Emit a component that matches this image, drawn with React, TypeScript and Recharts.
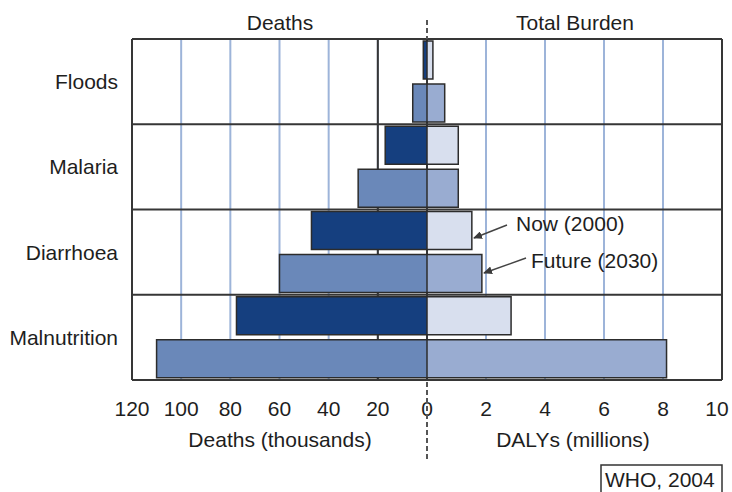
import React from 'react';
import { BarChart, Bar, XAxis, YAxis, CartesianGrid } from 'recharts';

// ---- data ----
const categories = ['Floods', 'Malaria', 'Diarrhoea', 'Malnutrition'];
const deathsNow = [1.5, 17, 47, 77.5]; // thousands, 2000
const deathsFuture = [5.8, 28, 60, 110]; // thousands, 2030
const dalysNow = [0.2, 1.06, 1.52, 2.85]; // millions, 2000
const dalysFuture = [0.6, 1.06, 1.86, 8.12]; // millions, 2030
const deathTicks = [120, 100, 80, 60, 40, 20, 0];
const dalyTicks = [2, 4, 6, 8, 10];
const deathDarkLines = [0, 20, 120];
const dalyDarkLines = [0, 10];
const deathDomain: [number, number] = [0, 120];
const dalyDomain: [number, number] = [0, 10];

const rows = categories.map((name, i) => ({
  name,
  deathsNow: deathsNow[i],
  deathsFuture: deathsFuture[i],
  dalysNow: dalysNow[i],
  dalysFuture: dalysFuture[i],
}));

// ---- style ----
const FONT = '"Liberation Sans", Arial, Helvetica, sans-serif';
const TEXT = '#1e1e1e';
const BLUE = '#9db4d9';
const DARK = '#363636';
const BAR_STROKE = '#2c2c2c';
const C_DEATH_NOW = '#153f7f';
const C_DEATH_FUT = '#6a88b9';
const C_DALY_NOW = '#d8dfee';
const C_DALY_FUT = '#99acd1';
const FS = 21;

const tickStyle = { fill: TEXT, fontSize: FS, fontFamily: FONT };

// horizontal band boundaries: one line per category edge
const rowEdges = (props: any) => {
  const { offset } = props;
  const n = categories.length;
  const out: number[] = [];
  for (let i = 0; i <= n; i++) out.push(offset.top + (offset.height * i) / n);
  return out;
};

const darkVertical = (values: number[], domain: [number, number], reversed: boolean) => (props: any) => {
  const { xAxis, offset } = props;
  if (xAxis && typeof xAxis.scale === 'function') {
    const s = xAxis.scale;
    const r = values.map((v) => s(v)).filter((v: any) => typeof v === 'number' && !isNaN(v));
    if (r.length === values.length) return r;
  }
  return values.map((v) => {
    const t = (v - domain[0]) / (domain[1] - domain[0]);
    return offset.left + offset.width * (reversed ? 1 - t : t);
  });
};

const DalyTick = (props: any) => {
  const { x, y, payload, index, visibleTicksCount } = props;
  const last = index === (visibleTicksCount ?? dalyTicks.length) - 1;
  return (
    <text x={last ? x - 5 : x} y={y} dy="0.71em" textAnchor="middle" fill={TEXT} fontSize={FS} fontFamily={FONT}>
      {payload.value}
    </text>
  );
};

export default function App() {
  return (
    <div
      style={{
        position: 'absolute',
        left: 0,
        top: 0,
        width: 732,
        height: 492,
        background: '#fff',
        fontFamily: FONT,
        overflow: 'hidden',
      }}
    >
      <div style={{ position: 'absolute', left: 0, top: 0 }}>
        <BarChart
          layout="vertical"
          width={447}
          height={460}
          data={rows}
          margin={{ top: 39, right: 20, bottom: 0, left: 0 }}
          barCategoryGap={2}
          barGap={5}
        >
          <CartesianGrid horizontal={false} vertical stroke={BLUE} strokeWidth={2} />
          <CartesianGrid
            stroke={DARK}
            strokeWidth={2}
            horizontalCoordinatesGenerator={rowEdges}
            verticalCoordinatesGenerator={darkVertical(deathDarkLines, deathDomain, true)}
          />
          <XAxis
            type="number"
            domain={deathDomain}
            reversed
            ticks={deathTicks}
            interval={0}
            axisLine={false}
            tickLine={false}
            tickSize={0}
            tickMargin={21}
            height={80}
            tick={tickStyle}
          />
          <YAxis
            type="category"
            dataKey="name"
            width={132}
            axisLine={false}
            tickLine={false}
            tickSize={0}
            tickMargin={14}
            interval={0}
            tick={tickStyle}
          />
          <Bar dataKey="deathsNow" fill={C_DEATH_NOW} stroke={BAR_STROKE} strokeWidth={1.5} isAnimationActive={false} />
          <Bar dataKey="deathsFuture" fill={C_DEATH_FUT} stroke={BAR_STROKE} strokeWidth={1.5} isAnimationActive={false} />
        </BarChart>
      </div>

      <div style={{ position: 'absolute', left: 427, top: 0 }}>
        <BarChart
          layout="vertical"
          width={305}
          height={460}
          data={rows}
          margin={{ top: 39, right: 10, bottom: 0, left: 0 }}
          barCategoryGap={2}
          barGap={5}
        >
          <CartesianGrid horizontal={false} vertical stroke={BLUE} strokeWidth={2} />
          <CartesianGrid
            stroke={DARK}
            strokeWidth={2}
            horizontalCoordinatesGenerator={rowEdges}
            verticalCoordinatesGenerator={darkVertical(dalyDarkLines, dalyDomain, false)}
          />
          <XAxis
            type="number"
            domain={dalyDomain}
            ticks={dalyTicks}
            interval={0}
            axisLine={false}
            tickLine={false}
            tickSize={0}
            tickMargin={21}
            height={80}
            tick={<DalyTick />}
          />
          <YAxis type="category" dataKey="name" hide />
          <Bar dataKey="dalysNow" fill={C_DALY_NOW} stroke={BAR_STROKE} strokeWidth={1.5} isAnimationActive={false} />
          <Bar dataKey="dalysFuture" fill={C_DALY_FUT} stroke={BAR_STROKE} strokeWidth={1.5} isAnimationActive={false} />
        </BarChart>
      </div>

      <svg
        width={732}
        height={492}
        style={{ position: 'absolute', left: 0, top: 0, pointerEvents: 'none' }}
        fontFamily={FONT}
      >
        <defs>
          <marker id="ah" markerWidth={9} markerHeight={8} refX={8} refY={4} orient="auto" markerUnits="userSpaceOnUse">
            <path d="M0,0 L9,4 L0,8 z" fill="#3a3a3a" />
          </marker>
        </defs>
        <line x1={427} y1={20} x2={427} y2={39} stroke="#555" strokeWidth={2} strokeDasharray="5 3" />
        <line x1={427} y1={382} x2={427} y2={462} stroke="#555" strokeWidth={2} strokeDasharray="5 3" />
        <text x={280} y={30} textAnchor="middle" fontSize={FS} fill={TEXT}>Deaths</text>
        <text x={575} y={30} textAnchor="middle" fontSize={FS} fill={TEXT}>Total Burden</text>
        <text x={280} y={447} textAnchor="middle" fontSize={FS} fill={TEXT}>Deaths (thousands)</text>
        <text x={573} y={447} textAnchor="middle" fontSize={FS} fill={TEXT}>DALYs (millions)</text>
        <line x1={507} y1={225} x2={474} y2={238} stroke="#444" strokeWidth={1.5} markerEnd="url(#ah)" />
        <text x={516} y={231} fontSize={FS} fill={TEXT}>Now (2000)</text>
        <line x1={526} y1={258} x2={484} y2={273} stroke="#444" strokeWidth={1.5} markerEnd="url(#ah)" />
        <text x={531} y={268} fontSize={FS} fill={TEXT}>Future (2030)</text>
        <rect x={601} y={465} width={121} height={32} fill="none" stroke="#333" strokeWidth={1.5} />
        <text x={605} y={487} fontSize={FS} fill={TEXT}>WHO, 2004</text>
      </svg>
    </div>
  );
}
